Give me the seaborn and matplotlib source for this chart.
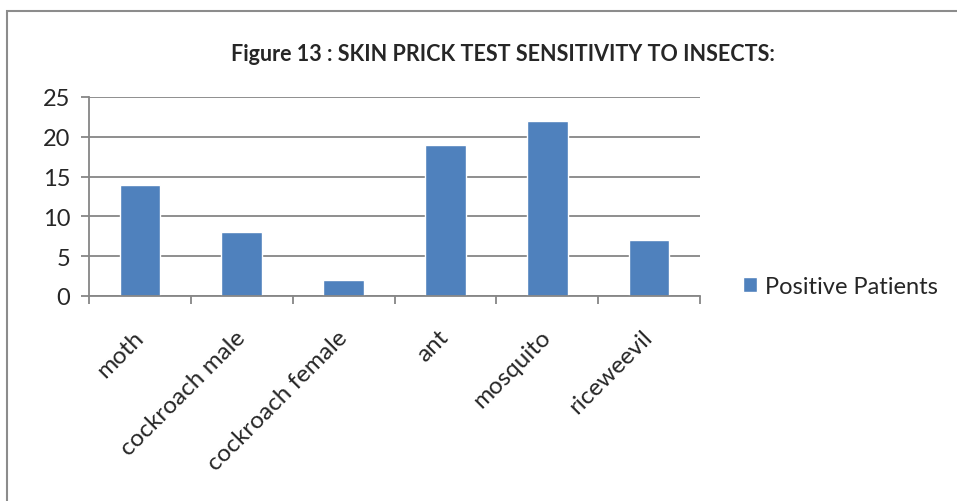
import numpy as np
import pandas as pd
import seaborn as sns
import matplotlib.pyplot as plt
from matplotlib.patches import Rectangle
from matplotlib.ticker import FixedLocator

# data
insects = ['moth', 'cockroach male', 'cockroach female', 'ant', 'mosquito', 'riceweevil']
positive_patients = [14, 8, 2, 19, 22, 7]
y_ticks = [0, 5, 10, 15, 20, 25]

sns.set_theme(style='white')
plt.rcParams['font.family'] = ['Lato', 'DejaVu Sans']

df = pd.DataFrame({'insect': insects, 'count': positive_patients})

fig = plt.figure(figsize=(9.57, 5.02), dpi=100)
ax = fig.add_axes([0.093, 0.4084, 0.6385, 0.3964])

sns.barplot(data=df, x='insect', y='count', color='#4F81BD', saturation=1,
            width=0.4, label='Positive Patients', ax=ax)

grid_col = '#868686'
ax.set_ylim(0, 25)
ax.set_xlim(-0.5, len(insects) - 0.5)
ax.set_yticks(y_ticks)
ax.yaxis.grid(True, color=grid_col, linewidth=1.3)
ax.set_axisbelow(True)
ax.set_xlabel('')
ax.set_ylabel('')

for side in ['top', 'right']:
    ax.spines[side].set_visible(False)
for side in ['left', 'bottom']:
    ax.spines[side].set_color(grid_col)
    ax.spines[side].set_linewidth(1.3)

# excel style: tick marks between categories, labels at centres
ax.xaxis.set_minor_locator(FixedLocator(np.arange(-0.5, len(insects), 1.0)))
ax.tick_params(axis='x', which='minor', bottom=True, length=5.5, width=1.3, color=grid_col)
ax.tick_params(axis='x', which='major', bottom=True, length=0, pad=27, labelsize=17.5)
ax.tick_params(axis='y', left=True, length=5.5, width=1.3, color=grid_col, pad=8, labelsize=17)
for lab in ax.get_xticklabels():
    lab.set_rotation(45)
    lab.set_ha('right')
    lab.set_va('center')
    lab.set_rotation_mode('anchor')

fig.suptitle('Figure 13 : SKIN PRICK TEST SENSITIVITY TO INSECTS:', x=0.526, y=0.913,
             fontsize=15.5, fontweight='bold')

ax.legend(loc='center left', bbox_to_anchor=(1.035, 0.05), frameon=False, fontsize=17,
          handlelength=0.6, handleheight=0.6, handletextpad=0.35)

# outer chart border (top and left edges visible)
fig.patches.append(Rectangle((7 / 957, -0.1), 1.1, 1 - 12 / 502 + 0.1, transform=fig.transFigure,
                             fill=False, edgecolor='#8c8c8c', linewidth=1.5))

fig.savefig('out.png', dpi=100)
